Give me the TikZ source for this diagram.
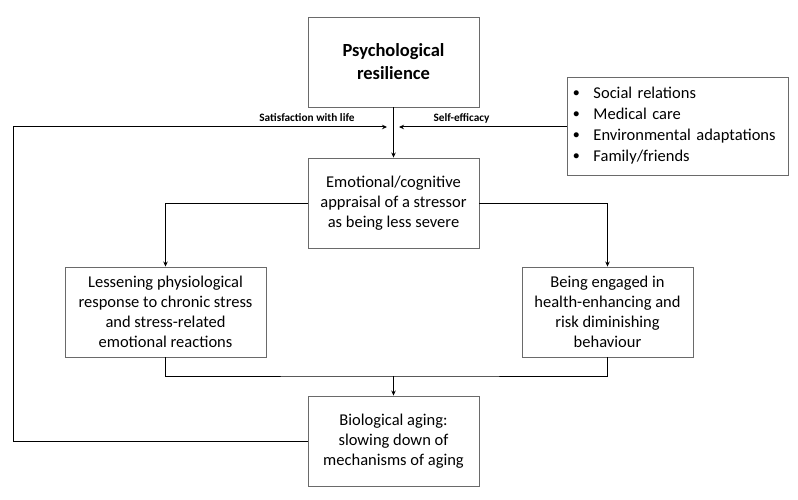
\documentclass[tikz,border=0pt]{standalone}
\usepackage{fontspec}
\setmainfont{Carlito}
\usetikzlibrary{arrows.meta}
\definecolor{boxgray}{HTML}{6A6A6A}
\begin{document}
\begin{tikzpicture}[x=1pt,y=-1pt,
  box/.style={draw=boxgray,line width=0.9pt,rectangle,align=center,inner sep=0pt,
    font=\fontsize{16.5}{20}\selectfont},
  conn/.style={draw=black,line width=1pt},
  arr/.style={conn,-{Stealth[length=5pt,width=4.5pt]}},
  lbl/.style={font=\fontsize{11.3}{12}\selectfont\bfseries,inner sep=0pt}]
\useasboundingbox (0,0) rectangle (798,500);
\node[box,minimum width=171pt,minimum height=90pt,font=\fontsize{18.5}{23}\selectfont\bfseries] (top) at (393.5,62) {Psychological\\resilience};
\node[box,minimum width=171pt,minimum height=90pt] (emo) at (393.5,203) {Emotional/cognitive\\appraisal of a stressor\\as being less severe};
\node[box,minimum width=201pt,minimum height=90pt] (left) at (165.5,312) {Lessening physiological\\response to chronic stress\\and stress-related\\emotional reactions};
\node[box,minimum width=171pt,minimum height=90pt] (right) at (607.5,312) {Being engaged in\\health-enhancing and\\risk diminishing\\behaviour};
\node[box,minimum width=171pt,minimum height=90pt] (bio) at (393.5,441) {Biological aging:\\slowing down of\\mechanisms of aging};
\node[box,minimum height=98pt,text width=209pt,inner xsep=6pt,align=left,font=\fontsize{16.5}{20.5}\selectfont] (list) at (677.5,126) {%
  \begin{tabular}{@{}l@{\hspace{14pt}}l@{}}
  \raisebox{2pt}{\scalebox{0.75}{$\bullet$}} & Social relations\\[0.5pt]
  \raisebox{2pt}{\scalebox{0.75}{$\bullet$}} & Medical care\\[0.5pt]
  \raisebox{2pt}{\scalebox{0.75}{$\bullet$}} & Environmental adaptations\\[0.5pt]
  \raisebox{2pt}{\scalebox{0.75}{$\bullet$}} & Family/friends
  \end{tabular}};
\coordinate (satend) at (387,127);
\coordinate (selfend) at (399,127);
\coordinate (fbcorner) at (13,127);
\coordinate (merge) at (393.5,376);
\draw[arr] (top.south) -- (emo.north);
\draw[arr] (bio.west) -| (fbcorner) -- (satend);
\draw[arr] (list.west |- selfend) -- (selfend);
\draw[arr] (emo.west) -| (left.north);
\draw[arr] (emo.east) -| (right.north);
\draw[conn] (left.south) |- (merge) -| (right.south);
\draw[arr] (merge) -- (bio.north);
\node[lbl,anchor=base] (satlbl) at (307,122) {Satisfaction with life};
\node[lbl,anchor=base] (selflbl) at (461.5,122) {Self-efficacy};
\end{tikzpicture}
\end{document}
